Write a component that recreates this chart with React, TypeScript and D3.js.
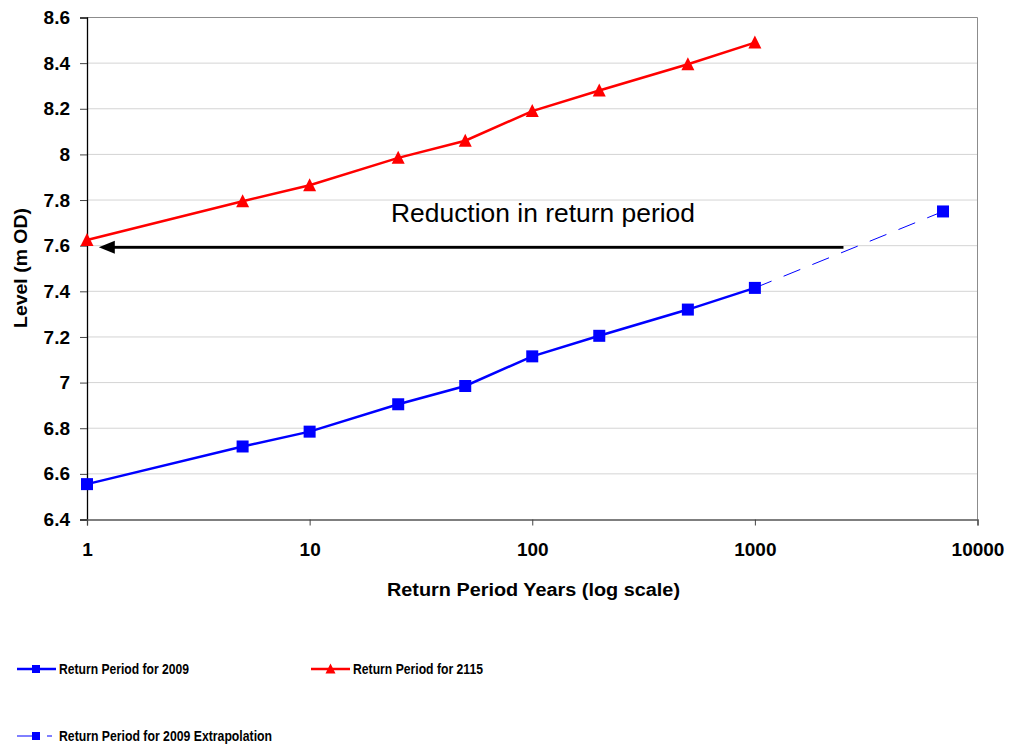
import React, { useRef, useEffect } from "react";
import * as d3 from "d3";

const periods = [1, 5, 10, 25, 50, 100, 200, 500, 1000];
const level2009 = [6.555, 6.72, 6.785, 6.905, 6.985, 7.115, 7.205, 7.32, 7.415];
const level2115 = [7.625, 7.795, 7.865, 7.985, 8.06, 8.19, 8.28, 8.395, 8.49];
const extrapPeriods = [1000, 7000];
const extrapLevels = [7.415, 7.75];
const xTicks = [1, 10, 100, 1000, 10000];
const yTicks = [6.4, 6.6, 6.8, 7, 7.2, 7.4, 7.6, 7.8, 8, 8.2, 8.4, 8.6];
const arrowFrom = [2500, 7.593];
const arrowTo = [1.13, 7.593];

const W = 1009;
const H = 744;
const margin = { left: 87, top: 17.5, right: 1009 - 977.5, bottom: 744 - 519.5 };
const font = "Arial, 'Liberation Sans', sans-serif";

const App = () => {
  const ref = useRef<SVGSVGElement>(null);

  useEffect(() => {
    const svg = d3.select(ref.current);
    svg.selectAll("*").remove();
    const iw = W - margin.left - margin.right;
    const ih = H - margin.top - margin.bottom;

    const x = d3.scaleLog().domain([1, 10000]).range([0, iw]);
    const y = d3.scaleLinear().domain([6.4, 8.6]).range([ih, 0]);

    const g = svg.append("g").attr("transform", `translate(${margin.left},${margin.top})`);

    // gridlines
    g.selectAll(".grid")
      .data(yTicks.slice(1))
      .join("line")
      .attr("x1", 0)
      .attr("x2", iw)
      .attr("y1", (d) => y(d))
      .attr("y2", (d) => y(d))
      .attr("stroke", "#d4d4d4")
      .attr("stroke-width", 1);

    // plot border (top, right)
    g.append("path")
      .attr("d", `M0,0H${iw}V${ih}`)
      .attr("fill", "none")
      .attr("stroke", "#8c8c8c")
      .attr("stroke-width", 1);

    // y axis
    const yAxis = d3.axisLeft(y).tickValues(yTicks).tickSize(7).tickPadding(10).tickFormat((d) => d3.format("")(+d));
    const ya = g.append("g").call(yAxis);
    ya.select(".domain").attr("stroke", "#000").attr("stroke-width", 1.3);
    ya.selectAll(".tick line").attr("stroke", "#444");
    ya.selectAll("text").attr("font-family", font).attr("font-weight", "bold").attr("font-size", 19).attr("fill", "#000");

    // x axis
    const xAxis = d3.axisBottom(x).tickValues(xTicks).tickSize(6).tickPadding(17).tickFormat((d) => String(d));
    const xa = g.append("g").attr("transform", `translate(0,${ih})`).call(xAxis);
    xa.select(".domain").attr("stroke", "#555").attr("stroke-width", 1.3);
    xa.selectAll(".tick line").attr("stroke", "#444");
    xa.selectAll("text").attr("font-family", font).attr("font-weight", "bold").attr("font-size", 19).attr("fill", "#000");

    // titles
    svg.append("text")
      .attr("x", 387)
      .attr("y", 596)
      .attr("font-family", font)
      .attr("font-weight", "bold")
      .attr("font-size", 18)
      .attr("textLength", 293)
      .attr("lengthAdjust", "spacingAndGlyphs")
      .text("Return Period Years (log scale)");

    svg.append("text")
      .attr("transform", `translate(27,328) rotate(-90)`)
      .attr("font-family", font)
      .attr("font-weight", "bold")
      .attr("font-size", 18)
      .attr("textLength", 120)
      .attr("lengthAdjust", "spacingAndGlyphs")
      .text("Level (m OD)");

    // extrapolation dashed line
    const line = d3.line<[number, number]>().x((d) => x(d[0])).y((d) => y(d[1]));
    g.append("path")
      .datum(extrapPeriods.map((p, i) => [p, extrapLevels[i]] as [number, number]))
      .attr("d", line)
      .attr("fill", "none")
      .attr("stroke", "#0000ff")
      .attr("stroke-width", 1)
      .attr("stroke-dasharray", "18,13");

    // arrow
    g.append("line")
      .attr("x1", x(arrowFrom[0]))
      .attr("y1", y(arrowFrom[1]))
      .attr("x2", x(arrowTo[0]) + 14)
      .attr("y2", y(arrowTo[1]))
      .attr("stroke", "#000")
      .attr("stroke-width", 2.8);
    g.append("path")
      .attr("d", `M${x(arrowTo[0])},${y(arrowTo[1])}l16,-6.5v13z`)
      .attr("fill", "#000");

    svg.append("text")
      .attr("x", 391)
      .attr("y", 222)
      .attr("font-family", font)
      .attr("font-size", 26)
      .attr("textLength", 304)
      .attr("lengthAdjust", "spacingAndGlyphs")
      .attr("fill", "#000")
      .text("Reduction in return period");

    // 2009 series
    const d2009 = periods.map((p, i) => [p, level2009[i]] as [number, number]);
    g.append("path")
      .datum(d2009)
      .attr("d", line)
      .attr("fill", "none")
      .attr("stroke", "#0000ff")
      .attr("stroke-width", 2.5);
    g.selectAll(".sq")
      .data([...d2009, [extrapPeriods[1], extrapLevels[1]] as [number, number]])
      .join("rect")
      .attr("x", (d) => x(d[0]) - 6)
      .attr("y", (d) => y(d[1]) - 6)
      .attr("width", 12)
      .attr("height", 12)
      .attr("fill", "#0000ff");

    // 2115 series
    const d2115 = periods.map((p, i) => [p, level2115[i]] as [number, number]);
    g.append("path")
      .datum(d2115)
      .attr("d", line)
      .attr("fill", "none")
      .attr("stroke", "#ff0000")
      .attr("stroke-width", 2.5);
    g.selectAll(".tri")
      .data(d2115)
      .join("path")
      .attr("d", "M0,-7L6.5,6L-6.5,6Z")
      .attr("transform", (d) => `translate(${x(d[0])},${y(d[1])})`)
      .attr("fill", "#ff0000");

    // legend
    const lg = svg.append("g");
    const leg = (x0: number, yy: number, color: string, label: string, kind: string, len: number) => {
      if (kind === "dash") {
        lg.append("line").attr("x1", 17).attr("x2", 33).attr("y1", yy).attr("y2", yy).attr("stroke", color).attr("stroke-width", 1);
        lg.append("line").attr("x1", 47).attr("x2", 52).attr("y1", yy).attr("y2", yy).attr("stroke", color).attr("stroke-width", 1);
        lg.append("rect").attr("x", 32).attr("y", yy - 4).attr("width", 8).attr("height", 8).attr("fill", color);
      } else {
        lg.append("line").attr("x1", x0).attr("x2", x0 + 39).attr("y1", yy).attr("y2", yy).attr("stroke", color).attr("stroke-width", 2.5);
        if (kind === "sq") {
          lg.append("rect").attr("x", x0 + 15).attr("y", yy - 4).attr("width", 8).attr("height", 8).attr("fill", color);
        } else {
          lg.append("path").attr("d", "M0,-5.5L5,4.5L-5,4.5Z").attr("transform", `translate(${x0 + 19.5},${yy})`).attr("fill", color);
        }
      }
      lg.append("text")
        .attr("x", x0 + 42)
        .attr("y", yy + 5)
        .attr("font-family", font)
        .attr("font-weight", "bold")
        .attr("font-size", 14.5)
        .attr("textLength", len)
        .attr("lengthAdjust", "spacingAndGlyphs")
        .attr("fill", "#000")
        .text(label);
    };
    leg(17, 669, "#0000ff", "Return Period for 2009", "sq", 130);
    leg(311, 669, "#ff0000", "Return Period for 2115", "tri", 130);
    leg(17, 736, "#0000ff", "Return Period for 2009 Extrapolation", "dash", 213);
  }, []);

  return (
    <svg ref={ref} width={W} height={H} style={{ position: "absolute", left: 0, top: 0, background: "#fff" }} />
  );
};

export default App;
